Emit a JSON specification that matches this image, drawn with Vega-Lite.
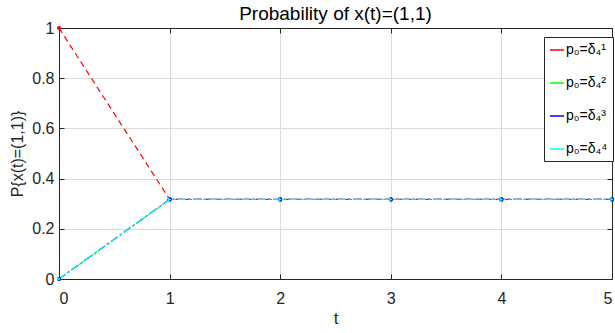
{
  "$schema": "https://vega.github.io/schema/vega-lite/v6.json",
  "autosize": "none",
  "width": 553,
  "height": 251,
  "padding": {"left": 59, "top": 28, "right": 3, "bottom": 54},
  "background": "white",
  "title": {"text": "Probability of x(t)=(1,1)", "font": "Liberation Sans", "fontSize": 19, "fontWeight": "normal", "color": "#000000", "offset": -4, "anchor": "middle"},
  "config": {
    "font": "Liberation Sans",
    "view": {"stroke": "#262626", "strokeWidth": 1},
    "axis": {
      "domainColor": "#262626", "tickColor": "#262626", "labelColor": "#262626", "titleColor": "#262626",
      "labelFont": "Liberation Sans", "titleFont": "Liberation Sans", "labelFontSize": 16, "titleFontSize": 17, "titleFontWeight": "normal",
      "gridColor": "#dcdcdc", "gridWidth": 1, "tickSize": -5
    },
    "axisX": {"labelPadding": 16},
    "axisY": {"labelPadding": 10}
  },
  "data": {"values": [
    {"t": 0, "p": 1, "s": "p₀=δ₄¹"},
    {"t": 1, "p": 0.317, "s": "p₀=δ₄¹"},
    {"t": 2, "p": 0.317, "s": "p₀=δ₄¹"},
    {"t": 3, "p": 0.317, "s": "p₀=δ₄¹"},
    {"t": 4, "p": 0.317, "s": "p₀=δ₄¹"},
    {"t": 5, "p": 0.317, "s": "p₀=δ₄¹"},
    {"t": 0, "p": 0, "s": "p₀=δ₄²"},
    {"t": 1, "p": 0.317, "s": "p₀=δ₄²"},
    {"t": 2, "p": 0.317, "s": "p₀=δ₄²"},
    {"t": 3, "p": 0.317, "s": "p₀=δ₄²"},
    {"t": 4, "p": 0.317, "s": "p₀=δ₄²"},
    {"t": 5, "p": 0.317, "s": "p₀=δ₄²"},
    {"t": 0, "p": 0, "s": "p₀=δ₄³"},
    {"t": 1, "p": 0.317, "s": "p₀=δ₄³"},
    {"t": 2, "p": 0.317, "s": "p₀=δ₄³"},
    {"t": 3, "p": 0.317, "s": "p₀=δ₄³"},
    {"t": 4, "p": 0.317, "s": "p₀=δ₄³"},
    {"t": 5, "p": 0.317, "s": "p₀=δ₄³"},
    {"t": 0, "p": 0, "s": "p₀=δ₄⁴"},
    {"t": 1, "p": 0.317, "s": "p₀=δ₄⁴"},
    {"t": 2, "p": 0.317, "s": "p₀=δ₄⁴"},
    {"t": 3, "p": 0.317, "s": "p₀=δ₄⁴"},
    {"t": 4, "p": 0.317, "s": "p₀=δ₄⁴"},
    {"t": 5, "p": 0.317, "s": "p₀=δ₄⁴"}
  ]},
  "resolve": {"axis": {"x": "independent", "y": "independent"}, "scale": {"color": "independent", "shape": "independent"}, "legend": {"color": "independent"}},
  "layer": [
    {
      "mark": {"type": "line", "strokeWidth": 1.2, "clip": false},
      "encoding": {
        "x": {"field": "t", "type": "quantitative", "scale": {"domain": [0, 5], "nice": false, "zero": false},
              "axis": {"title": "t", "values": [0, 1, 2, 3, 4, 5], "titlePadding": 4}},
        "y": {"field": "p", "type": "quantitative", "scale": {"domain": [0, 1], "nice": false},
              "axis": {"title": "P{x(t)=(1,1)}", "titleFontSize": 16, "values": [0, 0.2, 0.4, 0.6, 0.8, 1], "format": "~g", "titlePadding": 6}},
        "color": {"field": "s", "type": "nominal",
                  "scale": {"domain": ["p₀=δ₄¹", "p₀=δ₄²", "p₀=δ₄³", "p₀=δ₄⁴"], "range": ["#ff0000", "#00ff00", "#0000ff", "#00ffff"]},
                  "legend": {"title": null, "orient": "none", "legendX": 485, "legendY": 9, "symbolType": "stroke", "symbolSize": 200, "symbolStrokeWidth": 1.5,
                             "labelFontSize": 14, "labelColor": "#000000", "labelFont": "Liberation Sans", "rowPadding": 18,
                             "strokeColor": "#262626", "fillColor": "white", "padding": 5, "labelOffset": 1}},
        "strokeDash": {"field": "s", "type": "nominal",
                       "scale": {"domain": ["p₀=δ₄¹", "p₀=δ₄²", "p₀=δ₄³", "p₀=δ₄⁴"], "range": [[6, 4], [2, 3], [8, 3, 2, 3], [8, 3, 2, 3]]},
                       "legend": null}
      }
    },
    {
      "mark": {"type": "point", "filled": true, "size": 18, "opacity": 1, "clip": false},
      "encoding": {
        "x": {"field": "t", "type": "quantitative", "axis": {"orient": "top", "title": null, "labels": false, "grid": false, "values": [0, 1, 2, 3, 4, 5]}},
        "y": {"field": "p", "type": "quantitative", "axis": {"orient": "right", "title": null, "labels": false, "grid": false, "values": [0, 0.2, 0.4, 0.6, 0.8, 1]}},
        "color": {"field": "s", "type": "nominal",
                  "scale": {"domain": ["p₀=δ₄¹", "p₀=δ₄²", "p₀=δ₄³", "p₀=δ₄⁴"], "range": ["#ff0000", "#00ff00", "#0000ff", "#00ffff"]},
                  "legend": null},
        "shape": {"field": "s", "type": "nominal",
                  "scale": {"domain": ["p₀=δ₄¹", "p₀=δ₄²", "p₀=δ₄³", "p₀=δ₄⁴"], "range": ["circle", "triangle-up", "circle", "triangle-right"]},
                  "legend": null}
      }
    }
  ]
}
